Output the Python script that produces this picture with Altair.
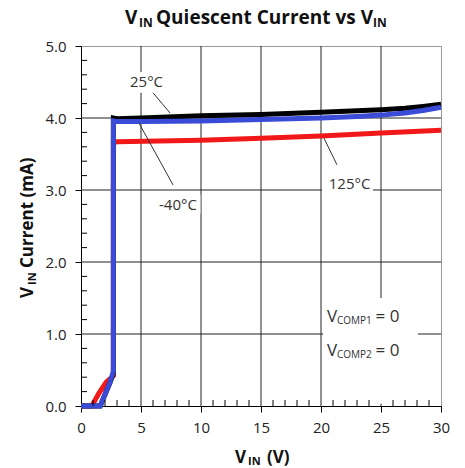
import altair as alt
import pandas as pd

# ---------------- data ----------------
series = ["25°C", "-40°C", "125°C"]
colors = ["#000000", "#3a4bd8", "#f01818"]

x_25 = [0, 1.6, 2.4, 2.7, 2.7, 3, 5, 10, 15, 20, 23, 25, 27, 28.5, 30]
y_25 = [0, 0, 0.32, 0.45, 4.0, 3.99, 4.0, 4.03, 4.05, 4.08, 4.1, 4.115, 4.135, 4.16, 4.19]

x_m40 = [0, 1.6, 2.4, 2.7, 2.7, 3, 5, 10, 15, 20, 23, 25, 27, 28.5, 30]
y_m40 = [0, 0, 0.32, 0.48, 3.96, 3.95, 3.95, 3.96, 3.98, 4.0, 4.02, 4.04, 4.07, 4.105, 4.15]

x_125 = [0, 0.9, 1.5, 2.1, 2.7, 2.7, 3, 10, 15, 20, 25, 30]
y_125 = [0, 0, 0.18, 0.33, 0.42, 3.66, 3.67, 3.69, 3.72, 3.75, 3.79, 3.83]

x_ticks = [0, 5, 10, 15, 20, 25, 30]
y_ticks = [0, 1, 2, 3, 4, 5]
x_grid = [5, 10, 15, 20, 25]
y_grid = [1, 2, 3, 4]
x_minor = [1, 2, 3, 4, 6, 7, 8, 9, 11, 12, 13, 14, 16, 17, 18, 19, 21, 22, 23, 24, 26, 27, 28, 29]
y_minor = [0.2, 0.4, 0.6, 0.8, 1.2, 1.4, 1.6, 1.8, 2.2, 2.4, 2.6, 2.8,
           3.2, 3.4, 3.6, 3.8, 4.2, 4.4, 4.6, 4.8]

# annotation labels (data coordinates)
lab_text = ["25°C", "-40°C", "125°C"]
lab_x = [5.46, 8.08, 22.38]
lab_y = [4.43, 2.72, 3.01]
lead_x1 = [6.0, 4.83, 20.25]
lead_y1 = [4.35, 3.93, 3.72]
lead_x2 = [7.42, 7.67, 21.33]
lead_y2 = [4.07, 3.07, 3.35]
box_x1 = [3.67, 6.0, 20.08, 20.17]
box_x2 = [7.25, 9.95, 24.33, 28.08]
box_y1 = [4.35, 2.67, 2.92, 0.03]
box_y2 = [4.64, 2.93, 3.25, 1.5]

cond_main = ["V", "V"]
cond_sub = ["COMP1", "COMP2"]
cond_eq = ["= 0", "= 0"]
cond_x = [20.5, 20.5]
cond_sub_x = [21.33, 21.33]
cond_eq_x = [24.55, 24.55]
cond_y = [1.167, 0.694]
cond_sub_y = [1.14, 0.667]

title_parts = ["V", "IN", "Quiescent Current vs V", "IN"]
ytitle_parts = ["V", "IN", "Current (mA)"]
xtitle_parts = ["V", "IN", "(V)"]

# ---------------- build ----------------
W, H = 360, 360
FONT = "Open Sans"

rows = []
for name, xs_, ys_ in [("125°C", x_125, y_125), ("25°C", x_25, y_25), ("-40°C", x_m40, y_m40)]:
    for i, (a, b) in enumerate(zip(xs_, ys_)):
        rows.append({"series": name, "vin": a, "cur": b, "idx": i})
df = pd.DataFrame(rows)

xs = alt.Scale(domain=[0, 30], nice=False, zero=False)
ys = alt.Scale(domain=[0, 5], nice=False, zero=False)

xaxis = alt.Axis(values=x_ticks, grid=False, title=None, tickSize=6, tickColor="black",
                 domainColor="black", labelFont=FONT, labelFontSize=15, labelColor="#222",
                 labelPadding=8, labelFlush=False, labelOverlap=False, format="d")
yaxis = alt.Axis(values=y_ticks, grid=False, title=None, tickSize=6, tickColor="black",
                 domainColor="black", labelFont=FONT, labelFontSize=15, labelColor="#222",
                 labelPadding=9, labelFlush=False, labelOverlap=False, format=".1f")


def X(f):
    return alt.X(f, type="quantitative", scale=xs, axis=xaxis)


def Y(f):
    return alt.Y(f, type="quantitative", scale=ys, axis=yaxis)


grid_v = alt.Chart(pd.DataFrame({"gx": x_grid})).mark_rule(color="#222", strokeWidth=1).encode(x=X("gx"))
grid_h = alt.Chart(pd.DataFrame({"gy": y_grid})).mark_rule(color="#222", strokeWidth=1).encode(y=Y("gy"))

boxes = alt.Chart(pd.DataFrame({"bx1": box_x1, "bx2": box_x2, "by1": box_y1, "by2": box_y2})).mark_rect(
    fill="white").encode(x=X("bx1"), x2="bx2", y=Y("by1"), y2="by2")

minor_x = alt.Chart(pd.DataFrame({"mx": x_minor})).mark_rule(color="black", strokeWidth=1).encode(
    x=X("mx"), y=alt.value(H), y2=alt.value(H - 6))
minor_y = alt.Chart(pd.DataFrame({"my": y_minor})).mark_rule(color="black", strokeWidth=1).encode(
    y=Y("my"), x=alt.value(0), x2=alt.value(6))

lines = alt.Chart(df).mark_line(strokeWidth=5, strokeJoin="miter", strokeCap="butt").encode(
    x=X("vin"), y=Y("cur"), order="idx:Q", detail="series:N",
    color=alt.Color("series:N", scale=alt.Scale(domain=series, range=colors), legend=None))

leaders = alt.Chart(pd.DataFrame({"lx1": lead_x1, "ly1": lead_y1, "lx2": lead_x2, "ly2": lead_y2})).mark_rule(
    color="#333", strokeWidth=1).encode(x=X("lx1"), y=Y("ly1"), x2="lx2", y2="ly2")

labels = alt.Chart(pd.DataFrame({"t": lab_text, "lx": lab_x, "ly": lab_y})).mark_text(
    font=FONT, fontSize=15, color="#333", align="center", baseline="alphabetic").encode(
    x=X("lx"), y=Y("ly"), text="t:N")

cdf = pd.DataFrame({"m": cond_main, "s": cond_sub, "e": cond_eq, "cx": cond_x, "sx": cond_sub_x,
                    "ex": cond_eq_x, "cy": cond_y, "sy": cond_sub_y})
cond_m = alt.Chart(cdf).mark_text(font=FONT, fontSize=17, color="#333", align="left",
                                  baseline="alphabetic").encode(x=X("cx"), y=Y("cy"), text="m:N")
cond_s = alt.Chart(cdf).mark_text(font=FONT, fontSize=10, color="#333", align="left",
                                  baseline="alphabetic").encode(x=X("sx"), y=Y("sy"), text="s:N")
cond_e = alt.Chart(cdf).mark_text(font=FONT, fontSize=17, color="#333", align="left",
                                  baseline="alphabetic").encode(x=X("ex"), y=Y("cy"), text="e:N")


def ptext(txt, px, py, size, angle=None):
    kw = dict(font=FONT, fontSize=size, fontWeight="bold", color="#111", align="left",
              baseline="alphabetic", text=txt)
    if angle is not None:
        kw["angle"] = angle
    return alt.Chart(pd.DataFrame({"d": [0]})).mark_text(**kw).encode(
        x=alt.value(px), y=alt.value(py))


titles = [
    ptext(title_parts[0], 44, -22, 19),
    ptext(title_parts[1], 58, -19, 12),
    ptext(title_parts[2], 75, -22, 19),
    ptext(title_parts[3], 292, -19, 12),
    ptext(xtitle_parts[0], 154, 417, 17),
    ptext(xtitle_parts[1], 167, 419, 11),
    ptext(xtitle_parts[2], 186, 417, 17),
    ptext(ytitle_parts[0], -48, 252, 17, 270),
    ptext(ytitle_parts[1], -45, 239, 11, 270),
    ptext(ytitle_parts[2], -48, 222, 17, 270),
]

chart = alt.layer(grid_v, grid_h, boxes, lines, minor_x, minor_y, leaders, labels,
                  cond_m, cond_s, cond_e, *titles).properties(
    width=W, height=H,
    autosize=alt.AutoSizeParams(type="none"),
    padding={"left": 81, "top": 46, "right": 24, "bottom": 62},
    background="white",
).configure_view(stroke="#999", strokeWidth=1)

chart.save("out.html", embed_options={"renderer": "svg", "actions": False})
